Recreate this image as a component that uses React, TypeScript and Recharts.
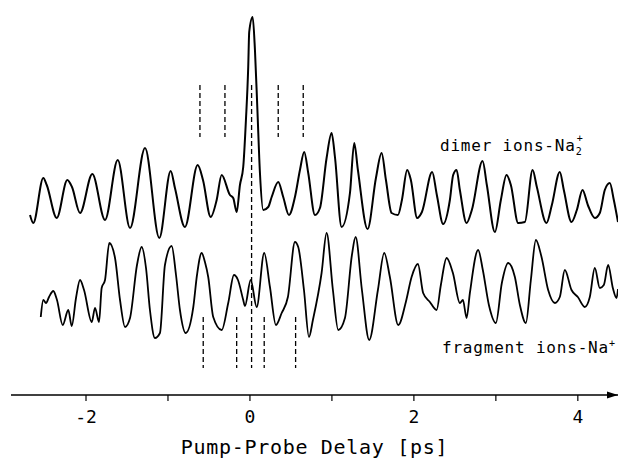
import React from 'react';
import { LineChart, Line, XAxis, YAxis, ReferenceLine, ReferenceDot } from 'recharts';

// delay in ps, signal in arbitrary units (both traces share one offset scale)
const dimerDelay = [
  -2.683, -2.643, -2.521, -2.479, -2.357, -2.228, -2.171, -2.073, -1.923, -1.768,
  -1.613, -1.463, -1.28, -1.106, -0.967, -0.915, -0.793, -0.638, -0.573, -0.479,
  -0.406, -0.345, -0.244, -0.204, -0.162, -0.122, -0.082, -0.049, -0.021, -0.009,
  0.033, 0.061, 0.091, 0.122, 0.162, 0.223, 0.265, 0.345, 0.406, 0.476,
  0.549, 0.61, 0.662, 0.711, 0.793, 0.854, 0.935, 0.996, 1.037, 1.118,
  1.22, 1.272, 1.317, 1.435, 1.537, 1.606, 1.659, 1.728, 1.805, 1.854,
  1.918, 1.963, 2.04, 2.098, 2.223, 2.28, 2.357, 2.439, 2.479, 2.521,
  2.561, 2.643, 2.707, 2.838, 2.89, 2.988, 3.061, 3.13, 3.183, 3.272,
  3.354, 3.448, 3.5, 3.618, 3.683, 3.78, 3.829, 3.923, 3.988, 4.057,
  4.122, 4.207, 4.268, 4.329, 4.39, 4.439, 4.49,
];
const dimerSignal = [
  18.0, 17.2, 21.7, 21.0, 17.7, 21.5, 20.8, 18.2, 22.1, 17.5,
  23.5, 16.7, 24.7, 15.7, 22.4, 20.7, 16.8, 23.0, 21.5, 17.8,
  19.5, 22.0, 20.0, 19.7, 18.3, 21.0, 22.8, 27.5, 32.8, 36.3,
  37.8, 34.5, 28.5, 22.2, 18.5, 18.8, 19.8, 21.3, 19.8, 18.0,
  19.8, 22.5, 24.3, 22.2, 18.0, 18.7, 23.7, 26.2, 23.8, 16.8,
  20.2, 25.2, 22.5, 16.6, 21.7, 24.2, 21.5, 18.2, 18.0, 19.5,
  22.5, 21.5, 17.7, 18.3, 22.3, 20.0, 17.1, 19.5, 22.0, 22.5,
  20.5, 17.2, 18.5, 23.4, 21.0, 16.3, 19.5, 22.0, 21.0, 17.2,
  17.3, 22.5, 20.8, 17.2, 19.0, 22.3, 20.5, 17.3, 18.5, 20.5,
  19.0, 17.7, 18.2, 20.5, 21.2, 19.5, 17.3,
];

const fragmentDelay = [
  -2.552, -2.521, -2.488, -2.451, -2.399, -2.354, -2.284, -2.216, -2.174, -2.122,
  -2.073, -2.024, -1.93, -1.89, -1.841, -1.809, -1.768, -1.716, -1.646, -1.585,
  -1.524, -1.463, -1.378, -1.321, -1.268, -1.22, -1.159, -1.098, -1.037, -0.955,
  -0.902, -0.854, -0.784, -0.691, -0.646, -0.589, -0.549, -0.509, -0.448, -0.345,
  -0.265, -0.195, -0.146, -0.082, -0.061, 0.009, 0.082, 0.174, 0.244, 0.317,
  0.387, 0.463, 0.549, 0.589, 0.659, 0.72, 0.768, 0.874, 0.935, 1.012,
  1.077, 1.159, 1.244, 1.289, 1.366, 1.455, 1.561, 1.638, 1.707, 1.809,
  1.902, 1.972, 2.049, 2.113, 2.195, 2.277, 2.329, 2.399, 2.476, 2.561,
  2.598, 2.643, 2.683, 2.784, 2.841, 2.915, 3.0, 3.073, 3.15, 3.232,
  3.293, 3.366, 3.427, 3.488, 3.557, 3.638, 3.72, 3.78, 3.841, 3.923,
  4.0, 4.085, 4.146, 4.207, 4.268, 4.317, 4.37, 4.427, 4.472, 4.49,
];
const fragmentSignal = [
  7.8, 9.5, 9.2, 9.8, 10.4, 9.5, 7.0, 8.5, 6.9, 9.7,
  11.5, 10.5, 7.3, 8.7, 7.3, 10.7, 11.5, 15.2, 13.7, 9.5,
  6.8, 7.7, 13.0, 14.8, 12.7, 8.5, 5.7, 6.2, 13.0, 14.9,
  12.0, 8.5, 6.2, 8.8, 12.0, 14.2, 13.3, 11.8, 7.8, 6.5,
  9.2, 12.0, 11.5, 9.5, 8.9, 11.5, 8.8, 14.2, 10.8, 7.0,
  8.2, 9.8, 15.3, 14.8, 10.5, 5.8, 7.5, 12.2, 16.2, 10.5,
  6.5, 7.7, 14.0, 15.8, 10.5, 5.5, 10.5, 14.2, 11.8, 7.0,
  9.3, 11.8, 13.1, 10.2, 9.3, 8.5, 11.0, 13.7, 12.2, 9.2,
  9.5, 7.7, 10.2, 14.5, 12.5, 9.0, 7.2, 11.2, 13.2, 11.8,
  9.0, 7.2, 11.5, 15.5, 13.8, 10.5, 9.2, 9.8, 12.5, 10.5,
  9.8, 8.8, 9.8, 12.7, 10.7, 11.0, 13.0, 10.7, 9.7, 10.6,
];

// dashed markers
const dimerMarks = [-0.61, -0.305, 0.345, 0.65];
const fragmentMarks = [-0.57, -0.162, 0.174, 0.557];
const zeroMark = 0.02;

const delayTicks = [-2, -1, 0, 1, 2, 3, 4];

const dimerData = dimerDelay.map((t, i) => ({ t, v: dimerSignal[i] }));
const fragmentData = fragmentDelay.map((t, i) => ({ t, v: fragmentSignal[i] }));

const mono = '"DejaVu Sans Mono", monospace';

const Arrow = (props: any) => {
  const { cx, cy } = props;
  return <path d={`M${cx} ${cy} L${cx - 11} ${cy - 3.5} L${cx - 11} ${cy + 3.5} Z`} fill="#000" />;
};

const labelStyle: React.CSSProperties = {
  position: 'absolute',
  fontFamily: mono,
  fontSize: 16,
  lineHeight: '16px',
  letterSpacing: '0.8px',
  color: '#000',
  whiteSpace: 'nowrap',
};

export default function App() {
  return (
    <div style={{ position: 'absolute', left: 0, top: 0, width: 622, height: 463, background: '#fff' }}>
      <LineChart width={622} height={463} margin={{ top: 0, right: 4, left: 11, bottom: 0 }}>
        <XAxis
          type="number"
          dataKey="t"
          domain={[-2.915, 4.49]}
          allowDataOverflow
          ticks={delayTicks}
          tickFormatter={(v: number) => (v % 2 === 0 ? String(v) : '')}
          height={68}
          tickSize={6}
          tickMargin={9}
          axisLine={{ stroke: '#000', strokeWidth: 1.3 }}
          tickLine={{ stroke: '#000', strokeWidth: 1.2 }}
          tick={{ fill: '#000', fontSize: 18, fontFamily: mono }}
        />
        <YAxis hide type="number" domain={[0, 39.5]} allowDataOverflow />
        <Line data={dimerData} dataKey="v" type="monotone" stroke="#000" strokeWidth={2} dot={false} isAnimationActive={false} />
        <Line data={fragmentData} dataKey="v" type="monotone" stroke="#000" strokeWidth={1.8} dot={false} isAnimationActive={false} />
        {dimerMarks.map((m) => (
          <ReferenceLine key={`d${m}`} segment={[{ x: m, y: 31.0 }, { x: m, y: 25.8 }]} stroke="#000" strokeWidth={1.3} strokeDasharray="5 3" ifOverflow="visible" />
        ))}
        {fragmentMarks.map((m) => (
          <ReferenceLine key={`f${m}`} segment={[{ x: m, y: 7.8 }, { x: m, y: 2.7 }]} stroke="#000" strokeWidth={1.3} strokeDasharray="5 3" ifOverflow="visible" />
        ))}
        <ReferenceLine segment={[{ x: zeroMark, y: 31.0 }, { x: zeroMark, y: 2.7 }]} stroke="#000" strokeWidth={1.3} strokeDasharray="5 3" ifOverflow="visible" />
        <ReferenceDot x={4.49} y={0} r={0} shape={Arrow} ifOverflow="visible" />
      </LineChart>

      <div style={{ ...labelStyle, left: 440, top: 138 }}>
        dimer ions-Na
        <span style={{ position: 'relative', display: 'inline-block', width: 9 }}>
          <span style={{ position: 'absolute', left: 1, top: -7, fontSize: 10 }}>+</span>
          <span style={{ position: 'relative', top: 4, fontSize: 10 }}>2</span>
        </span>
      </div>
      <div style={{ ...labelStyle, left: 442, top: 340 }}>
        fragment ions-Na
        <span style={{ position: 'relative', top: -6, fontSize: 10 }}>+</span>
      </div>
      <div
        style={{
          position: 'absolute',
          left: 0,
          width: 629,
          top: 437,
          textAlign: 'center',
          fontFamily: mono,
          fontSize: 20,
          lineHeight: '20px',
          letterSpacing: '0.7px',
          color: '#000',
          whiteSpace: 'nowrap',
        }}
      >
        Pump-Probe Delay [ps]
      </div>
    </div>
  );
}
